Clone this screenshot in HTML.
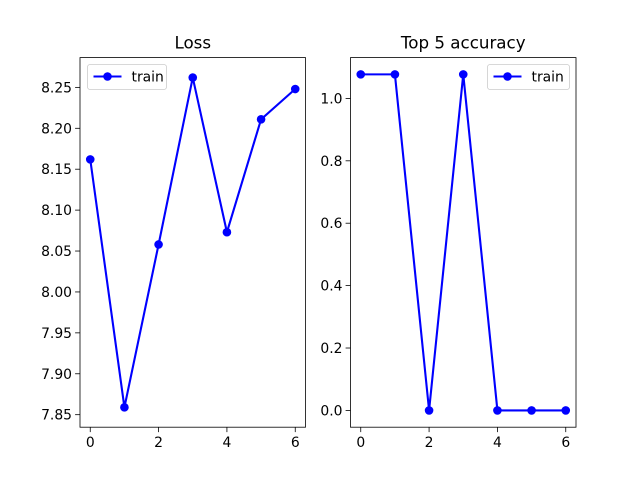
<!DOCTYPE html>
<html><head><meta charset="utf-8"><style>
body{margin:0;background:#fff}
svg{font-family:"DejaVu Sans","Liberation Sans",sans-serif}
</style></head><body>
<svg id="fig" width="640" height="480" xmlns="http://www.w3.org/2000/svg"></svg>
<script>
const epochs=[0,1,2,3,4,5,6];
const lossValues=[8.162,7.859,8.058,8.262,8.073,8.211,8.248];
const accValues=[1.077,1.077,0,1.077,0,0,0];
const xTicks=[0,2,4,6];
const lossTicks=[7.85,7.90,7.95,8.00,8.05,8.10,8.15,8.20,8.25];
const accTicks=[0.0,0.2,0.4,0.6,0.8,1.0];
const svg=document.getElementById('fig');
const NS='http://www.w3.org/2000/svg';
function mk(tag,attrs,parent){const e=document.createElementNS(NS,tag);for(const k in attrs)e.setAttribute(k,attrs[k]);(parent||svg).appendChild(e);return e;}
function panel(name,x0,x1,title,vals,ticks,ymin,ymax,fmt,legendX,legendW){
  const y0=57.6,y1=427.2;
  const g=mk('g',{});
  
  
  const xs=v=>x0+(x1-x0)*(v+0.3)/6.6;
  const ys=v=>y1-(y1-y0)*(v-ymin)/(ymax-ymin);
  const pts=epochs.map((e,i)=>xs(e)+','+ys(vals[i])).join(' ');
  const line=mk('polyline',{points:pts,fill:'none',stroke:'#0000ff','stroke-width':2.1},g);
  
  
  epochs.forEach((e,i)=>{const c=mk('circle',{cx:xs(e),cy:ys(vals[i]),r:4.3,fill:'#0000ff'},g);
    
    });
  const fr=mk('rect',{x:x0,y:y0,width:x1-x0,height:y1-y0,fill:'none',stroke:'#000','stroke-width':0.8},g);
  
  
  xTicks.forEach(t=>{const x=xs(t);mk('line',{x1:x,x2:x,y1:y1,y2:y1+4.9,stroke:'#000','stroke-width':0.8},g);
    const tx=mk('text',{x:x,y:y1+20,'font-size':13.9,'text-anchor':'middle'},g);tx.textContent=t;
    
    });
  ticks.forEach(t=>{const y=ys(t);mk('line',{x1:x0-4.9,x2:x0,y1:y,y2:y,stroke:'#000','stroke-width':0.8},g);
    const tx=mk('text',{x:x0-8,y:y+5,'font-size':13.9,'text-anchor':'end'},g);tx.textContent=t.toFixed(fmt);
    
    });
  const ti=mk('text',{x:(x0+x1)/2,y:y0-9,'font-size':16.7,'text-anchor':'middle'},g);ti.textContent=title;
  
  
  const lg=mk('g',{},g);
  
  
  mk('rect',{x:legendX,y:64.5,width:legendW,height:25,rx:2.5,fill:'#fff',stroke:'#ccc','stroke-width':0.8},lg);
  mk('line',{x1:legendX+6,x2:legendX+34,y1:76.5,y2:76.5,stroke:'#0000ff','stroke-width':2.1},lg);
  mk('circle',{cx:legendX+20,cy:76.5,r:4.3,fill:'#0000ff'},lg);
  const lt=mk('text',{x:legendX+44,y:81.5,'font-size':13.9},lg);lt.textContent='train';
}
panel('loss',80,305.5,'Loss',lossValues,lossTicks,7.8347,8.2864,2,87.5,79);
panel('accuracy',350.5,576,'Top 5 accuracy',accValues,accTicks,-0.0538,1.1308,1,487.5,82);
</script>
</body></html>
